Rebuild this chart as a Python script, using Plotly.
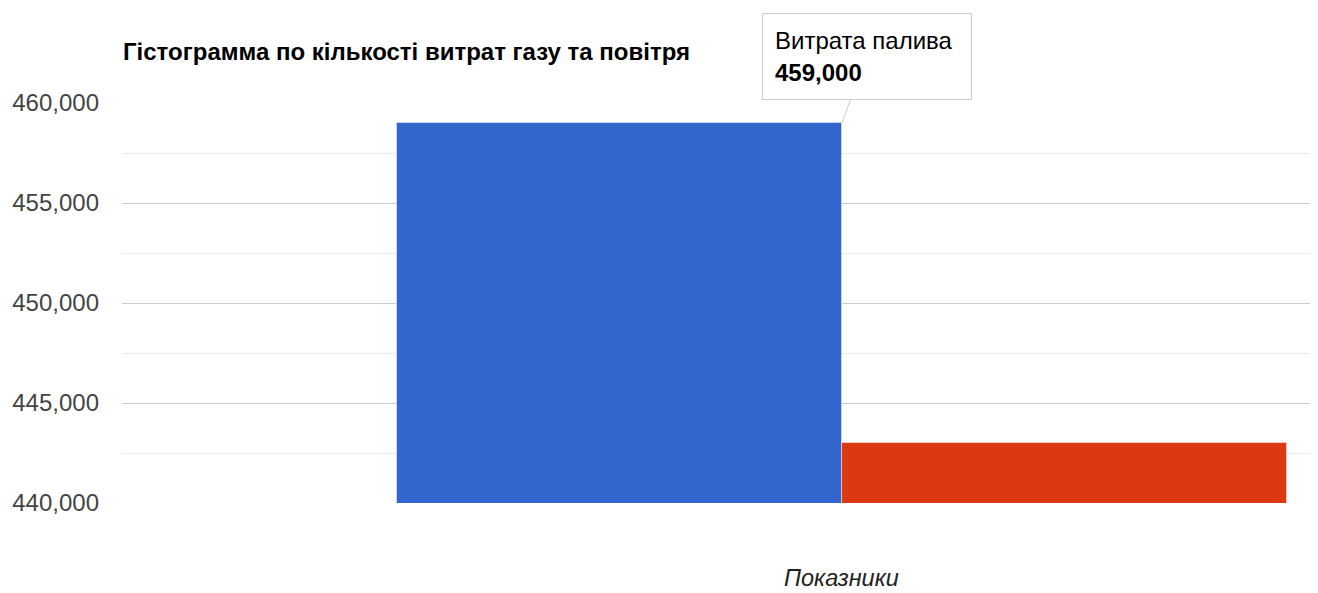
import plotly.graph_objects as go

categories = [""]
series_names = ["Витрата палива", "Витрата повітря"]
fuel_values = [459000]
air_values = [443000]
colors = ["#3366cc", "#dc3912"]

fig = go.Figure()
for name, vals, col in zip(series_names, [fuel_values, air_values], colors):
    fig.add_trace(go.Bar(
        x=categories, y=vals, name=name,
        marker=dict(color=col, line=dict(color="rgba(255,255,255,0.45)", width=1)),
    ))

fig.update_layout(
    width=1318, height=593,
    margin=dict(l=122, r=8, t=103, b=90),
    paper_bgcolor="white", plot_bgcolor="white",
    barmode="group", bargap=0, bargroupgap=0,
    showlegend=False,
    font=dict(family="Liberation Sans, Arial", color="#444444"),
    title=dict(
        text="<b>Гістограмма по кількості витрат газу та повітря</b>",
        x=123 / 1318, xref="container", xanchor="left",
        y=1 - 52 / 593, yref="container", yanchor="middle",
        font=dict(size=24, color="#000000"),
    ),
    xaxis=dict(
        range=[-0.809, 0.526], showticklabels=False, showgrid=False,
        zeroline=False, showline=False, ticks="",
    ),
    yaxis=dict(
        range=[440000, 460000], dtick=5000, tickformat=",d",
        tickfont=dict(size=24, color="#444444"),
        gridcolor="#cccccc", gridwidth=1, zeroline=False, showline=False,
        ticklabelstandoff=22,
        minor=dict(dtick=2500, showgrid=True, gridcolor="#ebebeb", gridwidth=1),
    ),
)

fig.add_annotation(
    x=0, y=-0.187, xref="x", yref="paper",
    text="<i>Показники</i>", showarrow=False, borderpad=0,
    font=dict(size=23.5, color="#222222"), yanchor="middle",
)

fig.add_annotation(
    x=0, y=fuel_values[0], xref="x", yref="y",
    text=f"{series_names[0]}<br><b>{fuel_values[0]:,}</b>",
    showarrow=True, arrowhead=0, arrowwidth=1, arrowcolor="#cccccc",
    ax=25, ay=-67, standoff=0,
    align="left", width=184, height=61,
    bgcolor="white", bordercolor="#cccccc", borderwidth=1, borderpad=12,
    font=dict(size=24, color="#000000"),
)

fig.write_html("out.html")
